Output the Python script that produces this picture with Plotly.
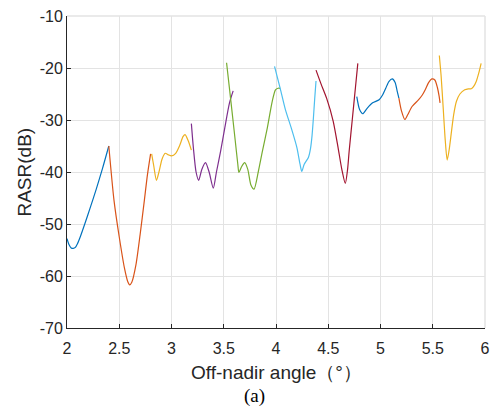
import plotly.graph_objects as go

# Off-nadir angle (deg) and RASR (dB) for each beam position
angle_1 = [2.00, 2.02, 2.04, 2.06, 2.08, 2.10, 2.13, 2.17, 2.22, 2.28, 2.34, 2.40]
rasr_1 = [-52.8, -54.0, -54.6, -54.7, -54.5, -53.8, -52.3, -50.0, -47.0, -43.3, -39.3, -35.0]

angle_2 = [2.40, 2.45, 2.50, 2.55, 2.58, 2.60, 2.62, 2.66, 2.70, 2.74, 2.77, 2.80]
rasr_2 = [-35.0, -45.5, -52.5, -58.5, -61.0, -61.7, -61.2, -57.8, -52.0, -45.5, -40.5, -36.5]

angle_3 = [2.81, 2.83, 2.856, 2.88, 2.91, 2.94, 2.97, 3.00, 3.04, 3.08, 3.11, 3.13, 3.16, 3.19]
rasr_3 = [-36.5, -38.8, -41.6, -40.0, -37.5, -36.4, -36.7, -36.9, -36.4, -34.8, -33.2, -32.8, -34.0, -35.8]

angle_4 = [3.19, 3.21, 3.235, 3.26, 3.29, 3.325, 3.36, 3.40, 3.43, 3.47, 3.51, 3.555, 3.59]
rasr_4 = [-30.7, -35.5, -40.0, -41.6, -39.5, -38.2, -40.0, -43.1, -40.0, -36.0, -31.5, -26.7, -24.4]

angle_5 = [3.527, 3.57, 3.61, 3.635, 3.645, 3.67, 3.70, 3.73, 3.76, 3.79, 3.83, 3.87, 3.917, 3.964, 3.995, 4.02, 4.04]
rasr_5 = [-19.0, -26.7, -34.0, -38.6, -40.1, -39.0, -38.2, -39.5, -42.5, -43.3, -40.0, -36.0, -31.5, -26.4, -24.2, -23.9, -23.9]

angle_6 = [3.986, 4.04, 4.09, 4.15, 4.20, 4.23, 4.247, 4.27, 4.31, 4.33, 4.345, 4.358, 4.37, 4.383]
rasr_6 = [-19.7, -23.9, -28.0, -31.8, -35.3, -38.5, -39.9, -38.5, -37.2, -35.5, -33.0, -29.6, -26.0, -22.5]

angle_7 = [4.383, 4.43, 4.484, 4.547, 4.594, 4.63, 4.663, 4.685, 4.70, 4.73, 4.76, 4.783]
rasr_7 = [-20.4, -23.0, -25.8, -30.2, -35.3, -39.5, -42.2, -39.5, -36.0, -29.9, -23.8, -19.1]

angle_8 = [4.773, 4.80, 4.83, 4.87, 4.925, 4.987, 5.02, 5.05, 5.08, 5.113, 5.14, 5.16, 5.176]
rasr_8 = [-25.5, -28.0, -28.8, -27.8, -26.7, -26.1, -25.2, -23.9, -22.6, -22.1, -22.8, -24.5, -25.8]

angle_9 = [5.176, 5.20, 5.233, 5.26, 5.302, 5.365, 5.40, 5.428, 5.46, 5.491, 5.52, 5.545, 5.56, 5.57]
rasr_9 = [-25.8, -28.2, -29.9, -29.0, -27.4, -26.1, -25.2, -24.2, -22.8, -22.1, -22.3, -23.8, -25.3, -26.7]

angle_10 = [5.563, 5.58, 5.60, 5.62, 5.638, 5.655, 5.68, 5.70, 5.727, 5.76, 5.806, 5.84, 5.869, 5.89, 5.916, 5.94, 5.963]
rasr_10 = [-17.6, -21.5, -27.7, -34.0, -37.7, -36.0, -32.1, -29.0, -26.4, -25.0, -24.2, -24.0, -24.0, -23.6, -22.6, -21.0, -19.1]

x_ticks = [2, 2.5, 3, 3.5, 4, 4.5, 5, 5.5, 6]
x_tick_labels = ["2", "2.5", "3", "3.5", "4", "4.5", "5", "5.5", "6"]
y_ticks = [-70, -60, -50, -40, -30, -20, -10]
y_tick_labels = ["-70", "-60", "-50", "-40", "-30", "-20", "-10"]

# MATLAB default colour order, cycled across the beams
palette = ["#0072BD", "#D95319", "#EDB120", "#7E2F8E", "#77AC30", "#4DBEEE", "#A2142F"]

segments = [
    (angle_1, rasr_1), (angle_2, rasr_2), (angle_3, rasr_3), (angle_4, rasr_4),
    (angle_5, rasr_5), (angle_6, rasr_6), (angle_7, rasr_7), (angle_8, rasr_8),
    (angle_9, rasr_9), (angle_10, rasr_10),
]

fig = go.Figure()
for i, (xs, ys) in enumerate(segments):
    fig.add_trace(go.Scatter(
        x=xs, y=ys, mode="lines",
        line=dict(color=palette[i % len(palette)], width=1.2, shape="spline", smoothing=0.7),
        showlegend=False, hoverinfo="skip",
    ))

axis_color = "#262626"
grid_color = "#e3e3e3"
font_family = "Liberation Sans, Arial, sans-serif"

fig.update_layout(
    width=498, height=407,
    margin=dict(l=67, r=8, t=14, b=79),
    paper_bgcolor="white", plot_bgcolor="white",
    font=dict(family=font_family, size=16, color=axis_color),
    xaxis=dict(
        range=[2, 6], tickvals=x_ticks, ticktext=x_tick_labels,
        showgrid=True, gridcolor=grid_color, gridwidth=1,
        showline=True, linecolor=axis_color, linewidth=1,
        ticks="inside", ticklen=4, tickcolor=axis_color,
        ticklabelstandoff=6, zeroline=False,
        tickfont=dict(size=16),
    ),
    yaxis=dict(
        range=[-70, -10], tickvals=y_ticks, ticktext=y_tick_labels,
        showgrid=True, gridcolor=grid_color, gridwidth=1,
        showline=True, linecolor=axis_color, linewidth=1,
        ticks="inside", ticklen=4, tickcolor=axis_color,
        zeroline=False, tickfont=dict(size=16),
    ),
    shapes=[
        dict(type="line", xref="paper", yref="paper", x0=0, x1=1, y0=1, y1=1,
             line=dict(color=grid_color, width=1.5)),
        dict(type="line", xref="paper", yref="paper", x0=1, x1=1, y0=0, y1=1,
             line=dict(color=grid_color, width=1.5)),
    ],
    annotations=[
        dict(text="Off-nadir angle（°）", xref="paper", yref="paper",
             x=0.5, y=-(373 - 328) / 314, xanchor="center", yanchor="middle",
             showarrow=False, font=dict(family=font_family, size=19, color=axis_color)),
        dict(text="(a)", xref="paper", yref="paper",
             x=(257 - 67) / 423, y=-(396 - 328) / 314, xanchor="center", yanchor="middle",
             showarrow=False, font=dict(family="Liberation Serif, Times New Roman, serif", size=19, color="black")),
        dict(text="RASR(dB)", xref="paper", yref="paper", textangle=-90,
             x=(23 - 67) / 423, y=(328 - 171) / 314, xanchor="center", yanchor="middle",
             showarrow=False, font=dict(family=font_family, size=19, color=axis_color)),
    ],
)

fig.write_html("out.html")
